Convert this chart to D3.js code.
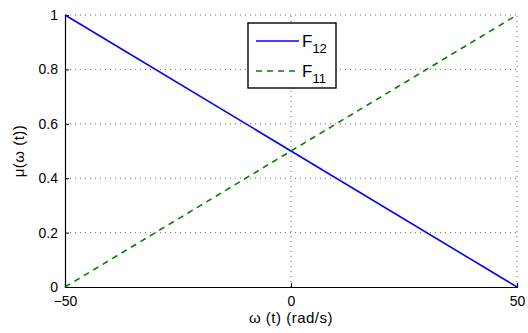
<!DOCTYPE html>
<html>
<head>
<meta charset="utf-8">
<script src="https://cdn.jsdelivr.net/npm/d3@7"></script>
<style>
  body { margin: 0; background: #fff; }
  svg { font-family: "Liberation Sans", Arial, sans-serif; }
</style>
</head>
<body>
<div id="chart"></div>
<script>
const omega = [-50, 50]
const f12 = [1, 0]
const f11 = [0, 1]
const xTicks = [-50, 0, 50]
const yTicks = [0, 0.2, 0.4, 0.6, 0.8, 1]
const seriesNames = [['F', '12'], ['F', '11']]

const width = 528
const height = 333
const margin = {top: 15, right: 11, bottom: 46, left: 65}
const axeColor = '#000'

const svg = d3.select('#chart')
  .append('svg')
    .attr('width', width)
    .attr('height', height)

const x = d3.scaleLinear()
  .domain([-50, 50])
  .range([margin.left, width - margin.right])

const y = d3.scaleLinear()
  .domain([0, 1])
  .range([height - margin.bottom, margin.top])

// grille pointillée
svg.append('g')
  .selectAll('line')
  .data(xTicks.slice(1))
  .join('line')
    .attr('x1', d => x(d)).attr('x2', d => x(d))
    .attr('y1', y(0)).attr('y2', y(1))
    .attr('stroke', '#000')
    .attr('stroke-width', 0.6)
    .attr('stroke-dasharray', '1,4')

svg.append('g')
  .selectAll('line')
  .data(yTicks.slice(1))
  .join('line')
    .attr('x1', x(-50)).attr('x2', x(50))
    .attr('y1', d => y(d)).attr('y2', d => y(d))
    .attr('stroke', '#000')
    .attr('stroke-width', 0.6)
    .attr('stroke-dasharray', '1,4')

// axes
const xAxis = svg.append('g')
  .attr('transform', `translate(0,${y(0)})`)
  .call(d3.axisBottom(x).tickValues(xTicks).tickSize(-4).tickPadding(9).tickFormat(d => d < 0 ? '\u2212' + Math.abs(d) : d))

const yAxis = svg.append('g')
  .attr('transform', `translate(${x(-50)},0)`)
  .call(d3.axisLeft(y).tickValues(yTicks).tickSize(-4).tickPadding(7).tickFormat(d => d))

for (const ax of [xAxis, yAxis]) {
  ax.select('.domain').attr('stroke', axeColor).attr('stroke-width', 1.2)
  ax.selectAll('.tick line').attr('stroke', axeColor).attr('stroke-width', 1)
  ax.selectAll('.tick text').style('fill', axeColor).style('font-size', '14px')
    .style('font-family', '"Liberation Sans", Arial, sans-serif')
}

// courbes
const line = d3.line()
  .x(d => x(d[0]))
  .y(d => y(d[1]))

svg.append('path')
  .datum(d3.zip(omega, f12))
  .attr('d', line)
  .attr('fill', 'none')
  .attr('stroke', '#0000ff')
  .attr('stroke-width', 1.6)

svg.append('path')
  .datum(d3.zip(omega, f11))
  .attr('d', line)
  .attr('fill', 'none')
  .attr('stroke', '#008000')
  .attr('stroke-width', 1.6)
  .attr('stroke-dasharray', '6,5')

// titres des axes
svg.append('text')
  .attr('x', x(0))
  .attr('y', 323)
  .attr('text-anchor', 'middle')
  .style('font-size', '15px')
  .style('letter-spacing', '0.5px')
  .text('\u03c9 (t) (rad/s)')

svg.append('text')
  .attr('transform', `translate(24,${y(0.5)}) rotate(-90)`)
  .attr('text-anchor', 'middle')
  .style('font-size', '15px')
  .style('letter-spacing', '0.5px')
  .text('\u03bc(\u03c9 (t))')

// légende
const legend = svg.append('g')
  .attr('transform', 'translate(248,23)')

legend.append('rect')
  .attr('width', 88)
  .attr('height', 65)
  .attr('fill', '#fff')
  .attr('stroke', '#000')
  .attr('stroke-width', 1.4)

const styles = [
  {color: '#0000ff', dash: null},
  {color: '#008000', dash: '6,5'},
]

seriesNames.forEach((name, i) => {
  const ly = 18 + i * 30
  legend.append('line')
    .attr('x1', 8).attr('x2', 51)
    .attr('y1', ly).attr('y2', ly)
    .attr('stroke', styles[i].color)
    .attr('stroke-width', 1.6)
    .attr('stroke-dasharray', styles[i].dash)
  const t = legend.append('text')
    .attr('x', 54)
    .attr('y', ly + 6)
    .style('font-size', '17px')
  t.append('tspan').text(name[0])
  t.append('tspan').attr('dy', 6).style('font-size', '13px').text(name[1])
})
</script>
</body>
</html>
